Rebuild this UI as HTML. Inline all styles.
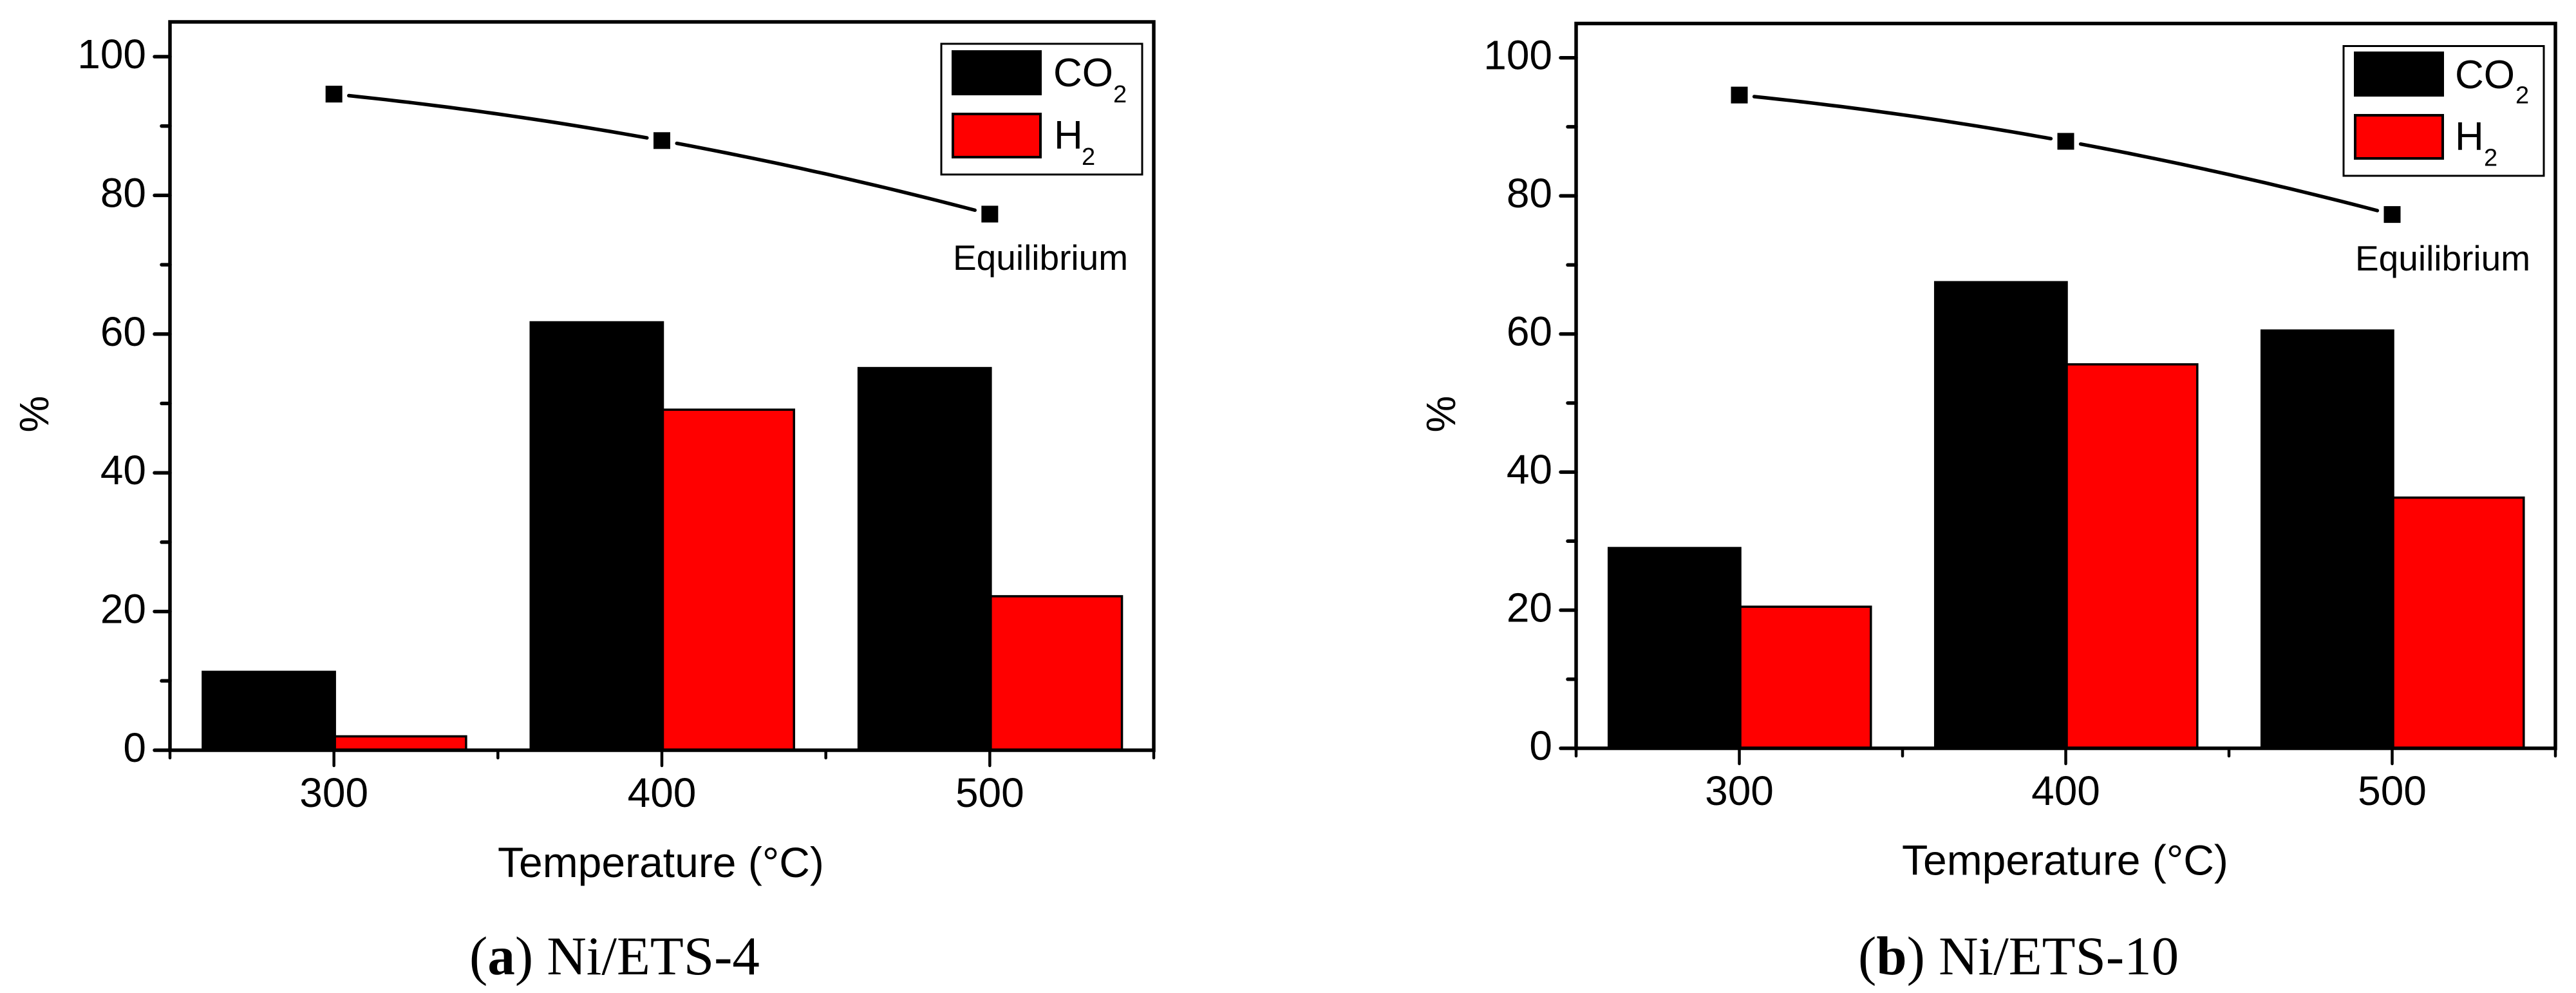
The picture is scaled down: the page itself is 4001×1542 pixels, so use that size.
<!DOCTYPE html>
<html lang="en">
<head>
<meta charset="utf-8">
<title>Conversion vs temperature: Ni/ETS-4 and Ni/ETS-10</title>
<style>
  html, body { margin: 0; padding: 0; background: #fff; }
  svg { display: block; }
  text { font-family: "Liberation Sans", Arial, sans-serif; fill: #000; }
  .tick { font-size: 64px; }
  .axis-title { font-size: 66px; }
  .legend-text { font-size: 62px; }
  .legend-sub { font-size: 38px; }
  .note { font-size: 55px; }
  .caption { font-family: "Liberation Serif", "Times New Roman", serif; font-size: 85px; }
</style>
</head>
<body>
<svg xmlns="http://www.w3.org/2000/svg" width="4001" height="1542" viewBox="0 0 4001 1542">
  <rect x="0" y="0" width="4001" height="1542" fill="#ffffff"/>

  <g id="panel-a">
    <g id="panel-a-marks"></g>
    <rect x="264" y="34" width="1528" height="1131" fill="none" stroke="#000" stroke-width="5.5"/>
    <g id="panel-a-axes"></g>
    <text x="75" y="643" class="tick" text-anchor="middle" transform="rotate(-90 75 643)">%</text>
    <text x="773" y="1362" class="axis-title">Temperature (°C)</text>
    <g>
      <rect x="1462" y="68" width="312" height="203" fill="#fff" stroke="#000" stroke-width="3"/>
      <rect x="1478" y="78" width="140" height="70" fill="#000"/>
      <rect x="1480" y="177" width="136" height="67" fill="#f00" stroke="#000" stroke-width="4"/>
      <text x="1636" y="134" class="legend-text">CO</text>
      <text x="1729" y="159" class="legend-sub">2</text>
      <text x="1637" y="231" class="legend-text">H</text>
      <text x="1680" y="256" class="legend-sub">2</text>
    </g>
    <text x="1480" y="419" class="note">Equilibrium</text>
    <text x="729" y="1513" class="caption">(<tspan font-weight="bold">a</tspan>) Ni/ETS-4</text>
  </g>

  <g id="panel-b">
    <g id="panel-b-marks"></g>
    <rect x="2448" y="36.5" width="1521" height="1125.5" fill="none" stroke="#000" stroke-width="5.5"/>
    <g id="panel-b-axes"></g>
    <text x="2260" y="643" class="tick" text-anchor="middle" transform="rotate(-90 2260 643)">%</text>
    <text x="2954" y="1358.5" class="axis-title">Temperature (°C)</text>
    <g>
      <rect x="3640" y="71.5" width="311" height="201.5" fill="#fff" stroke="#000" stroke-width="3"/>
      <rect x="3656" y="80" width="140" height="70" fill="#000"/>
      <rect x="3658" y="179" width="136" height="67" fill="#f00" stroke="#000" stroke-width="4"/>
      <text x="3813" y="137" class="legend-text">CO</text>
      <text x="3907" y="160.5" class="legend-sub">2</text>
      <text x="3813" y="233" class="legend-text">H</text>
      <text x="3858" y="257.5" class="legend-sub">2</text>
    </g>
    <text x="3658" y="420" class="note">Equilibrium</text>
    <text x="2886" y="1513" class="caption">(<tspan font-weight="bold">b</tspan>) Ni/ETS-10</text>
  </g>
</svg>

<script>
// Chart data
var temperatures = [300, 400, 500];
var co2PanelA = [11.3, 61.7, 55.1];
var h2PanelA = [2.0, 49.1, 22.2];
var equilibriumPanelA = [94.6, 87.9, 77.3];
var co2PanelB = [29.0, 67.5, 60.5];
var h2PanelB = [20.5, 55.6, 36.3];
var equilibriumPanelB = [94.6, 87.9, 77.3];
var yMajorTicks = [0, 20, 40, 60, 80, 100];
var yMinorTicks = [10, 30, 50, 70, 90];
var xMajorTicks = [300, 400, 500];
var xMinorTicks = [250, 350, 450, 550];
var barWidthDegrees = 40;

var SVG_NS = 'http://www.w3.org/2000/svg';

function makeEl(tag, parent) {
  var el = document.createElementNS(SVG_NS, tag);
  parent.appendChild(el);
  return el;
}

function drawPanel(id, box, co2, h2, equilibrium) {
  var marks = document.getElementById(id + '-marks');
  var axes = document.getElementById(id + '-axes');
  function xScale(t) { return box.left + (t - 250) * (box.right - box.left) / 300; }
  function yScale(v) { return box.y0 - v * (box.y0 - box.y100) / 100; }

  temperatures.forEach(function (t, i) {
    var co2Bar = makeEl('rect', marks);
    
    
    co2Bar.setAttribute('x', xScale(t - barWidthDegrees));
    co2Bar.setAttribute('y', yScale(co2[i]));
    co2Bar.setAttribute('width', xScale(t) - xScale(t - barWidthDegrees) + 1.5);
    co2Bar.setAttribute('height', yScale(0) - yScale(co2[i]));
    co2Bar.setAttribute('fill', '#000');
    co2Bar.setAttribute('stroke', '#000');
    co2Bar.setAttribute('stroke-width', '3.5');

    var h2Bar = makeEl('rect', marks);
    
    
    h2Bar.setAttribute('x', xScale(t) + 1.5);
    h2Bar.setAttribute('y', yScale(h2[i]));
    h2Bar.setAttribute('width', xScale(t + barWidthDegrees) - xScale(t));
    h2Bar.setAttribute('height', yScale(0) - yScale(h2[i]));
    h2Bar.setAttribute('fill', '#f00');
    h2Bar.setAttribute('stroke', '#000');
    h2Bar.setAttribute('stroke-width', '3.5');
  });

  // Smooth curve through the three equilibrium points, broken around each marker
  function curveValue(t) {
    var a = temperatures[0], b = temperatures[1], c = temperatures[2];
    return equilibrium[0] * (t - b) * (t - c) / ((a - b) * (a - c)) +
           equilibrium[1] * (t - a) * (t - c) / ((b - a) * (b - c)) +
           equilibrium[2] * (t - a) * (t - b) / ((c - a) * (c - b));
  }
  var gapDegrees = 4.55;
  for (var s = 0; s < temperatures.length - 1; s++) {
    var start = temperatures[s] + gapDegrees;
    var end = temperatures[s + 1] - gapDegrees;
    var d = '';
    for (var k = 0; k <= 24; k++) {
      var t = start + (end - start) * k / 24;
      d += (k ? 'L' : 'M') + xScale(t).toFixed(1) + ' ' + yScale(curveValue(t)).toFixed(1);
    }
    var segment = makeEl('path', marks);
    
    
    segment.setAttribute('d', d);
    segment.setAttribute('fill', 'none');
    segment.setAttribute('stroke', '#000');
    segment.setAttribute('stroke-width', '5.5');
    segment.setAttribute('stroke-linecap', 'round');
  }
  temperatures.forEach(function (t, i) {
    var point = makeEl('rect', marks);
    
    
    point.setAttribute('x', xScale(t) - 13);
    point.setAttribute('y', yScale(equilibrium[i]) - 13);
    point.setAttribute('width', 26);
    point.setAttribute('height', 26);
    point.setAttribute('fill', '#000');
  });

  yMajorTicks.forEach(function (v) {
    var tick = makeEl('line', axes);
    
    
    tick.setAttribute('x1', box.left);
    tick.setAttribute('x2', box.left - 24);
    tick.setAttribute('y1', yScale(v));
    tick.setAttribute('y2', yScale(v));
    tick.setAttribute('stroke', '#000');
    tick.setAttribute('stroke-width', '5.5');
    tick.setAttribute('stroke-linecap', 'round');

    var label = makeEl('text', axes);
    
    
    label.setAttribute('class', 'tick');
    label.setAttribute('x', box.left - 37);
    label.setAttribute('y', yScale(v) + 18);
    label.setAttribute('text-anchor', 'end');
    label.textContent = String(v);
  });
  yMinorTicks.forEach(function (v) {
    var tick = makeEl('line', axes);
    
    
    tick.setAttribute('x1', box.left);
    tick.setAttribute('x2', box.left - 13);
    tick.setAttribute('y1', yScale(v));
    tick.setAttribute('y2', yScale(v));
    tick.setAttribute('stroke', '#000');
    tick.setAttribute('stroke-width', '5.5');
    tick.setAttribute('stroke-linecap', 'round');
  });
  xMajorTicks.forEach(function (t) {
    var tick = makeEl('line', axes);
    
    
    tick.setAttribute('x1', xScale(t));
    tick.setAttribute('x2', xScale(t));
    tick.setAttribute('y1', box.y0);
    tick.setAttribute('y2', box.y0 + 24);
    tick.setAttribute('stroke', '#000');
    tick.setAttribute('stroke-width', '4.5');
    tick.setAttribute('stroke-linecap', 'round');

    var label = makeEl('text', axes);
    
    
    label.setAttribute('class', 'tick');
    label.setAttribute('x', xScale(t));
    label.setAttribute('y', box.y0 + 88);
    label.setAttribute('text-anchor', 'middle');
    label.textContent = String(t);
  });
  xMinorTicks.forEach(function (t) {
    var tick = makeEl('line', axes);
    
    
    tick.setAttribute('x1', xScale(t));
    tick.setAttribute('x2', xScale(t));
    tick.setAttribute('y1', box.y0);
    tick.setAttribute('y2', box.y0 + 12);
    tick.setAttribute('stroke', '#000');
    tick.setAttribute('stroke-width', '4.5');
    tick.setAttribute('stroke-linecap', 'round');
  });
}

drawPanel('panel-a', { left: 264, right: 1792, y0: 1165, y100: 88 }, co2PanelA, h2PanelA, equilibriumPanelA);
drawPanel('panel-b', { left: 2448, right: 3969, y0: 1162, y100: 89.7 }, co2PanelB, h2PanelB, equilibriumPanelB);
</script>
</body>
</html>
